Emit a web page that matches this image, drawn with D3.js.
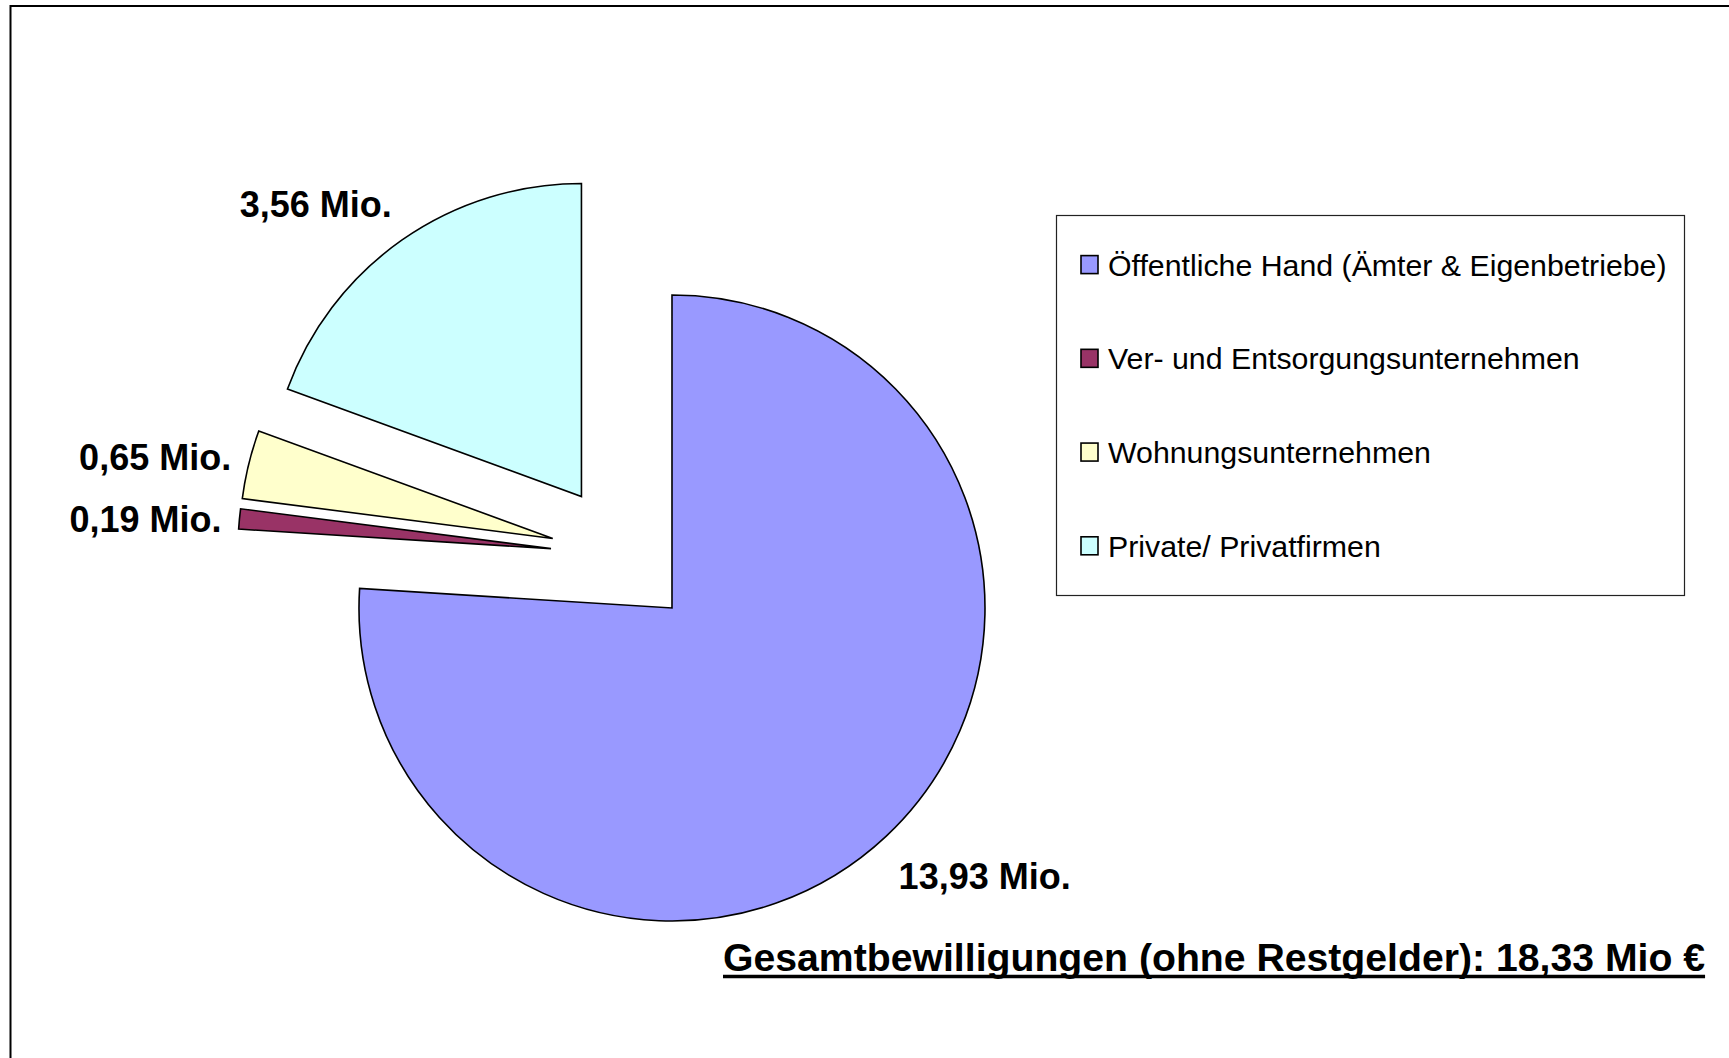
<!DOCTYPE html>
<html>
<head>
<meta charset="utf-8">
<script src="https://cdn.jsdelivr.net/npm/d3@7"></script>
<style>
  body { margin: 0; background: #fff; }
  svg { display: block; font-family: "Liberation Sans", Arial, sans-serif; }
</style>
</head>
<body>
<div id="container"></div>
<script>
/* DATA */
const categories = [
  "Öffentliche Hand (Ämter & Eigenbetriebe)",
  "Ver- und Entsorgungsunternehmen",
  "Wohnungsunternehmen",
  "Private/ Privatfirmen"
];
const values = [13.93, 0.19, 0.65, 3.56];
const valueLabels = ["13,93 Mio.", "0,19 Mio.", "0,65 Mio.", "3,56 Mio."];
const colors = ["#9999ff", "#993366", "#ffffcc", "#ccffff"];
const totalLabel = "Gesamtbewilligungen (ohne Restgelder): 18,33 Mio €";

/* CONSTANTS */
const width = 1729;
const height = 1058;
const cx = 622.7, cy = 555.5;   // pie centre before explosion
const radius = 313;
const explode = 72;
const labelDist = 331;

const data = categories.map((c, i) => ({ cat: c, value: values[i], label: valueLabels[i] }));

const svg = d3.select("#container")
  .append("svg")
  .attr("width", width)
  .attr("height", height);

svg.append("rect")
  .attr("width", width).attr("height", height)
  .attr("fill", "#fff");

// frame (runs off right and bottom)
svg.append("rect")
  .attr("x", 10.5).attr("y", 6)
  .attr("width", width + 20).attr("height", height + 20)
  .attr("fill", "none")
  .attr("stroke", "#000")
  .attr("stroke-width", 2);

/* PIE */
const color = d3.scaleOrdinal().domain(categories).range(colors);

const pie = d3.pie()
  .sort(null)
  .value(d => d.value);

const arc = d3.arc()
  .innerRadius(0)
  .outerRadius(radius);

const arcs = pie(data);
const dir = d => {
  const a = (d.startAngle + d.endAngle) / 2;
  return [Math.sin(a), -Math.cos(a)];
};

const slices = svg.append("g")
  .attr("transform", `translate(${cx}, ${cy})`);

slices.selectAll(".slice")
  .data(arcs)
  .join("path")
  .attr("class", "slice")
  .attr("d", arc)
  .attr("transform", d => {
    const [dx, dy] = dir(d);
    return `translate(${dx * explode}, ${dy * explode})`;
  })
  .attr("fill", d => color(d.data.cat))
  .attr("stroke", "#000")
  .attr("stroke-width", 1.6)
  .attr("stroke-linejoin", "miter");

// value labels
slices.selectAll(".val")
  .data(arcs)
  .join("text")
  .attr("class", "val")
  .attr("x", d => dir(d)[0] * (explode + labelDist))
  .attr("y", d => dir(d)[1] * (explode + labelDist) + dir(d)[1] * 31 + 4.5)
  .attr("dy", "0.36em")
  .attr("text-anchor", d => dir(d)[0] < 0 ? "end" : "start")
  .style("font-size", "36px")
  .style("font-weight", "bold")
  .text(d => d.data.label);

/* LEGEND */
const legend = svg.append("g");

legend.append("rect")
  .attr("x", 1056.5).attr("y", 215.5)
  .attr("width", 628).attr("height", 380)
  .attr("fill", "#fff")
  .attr("stroke", "#222")
  .attr("stroke-width", 1.2);

const yLegend = d3.scalePoint()
  .domain(categories)
  .range([264.6, 545.8]);

legend.selectAll(".sw")
  .data(categories)
  .join("rect")
  .attr("class", "sw")
  .attr("x", 1081).attr("y", d => yLegend(d) - 9)
  .attr("width", 17).attr("height", 18)
  .attr("fill", d => color(d))
  .attr("stroke", "#000")
  .attr("stroke-width", 1.6);

legend.selectAll(".lt")
  .data(categories)
  .join("text")
  .attr("class", "lt")
  .attr("x", 1108)
  .attr("y", d => yLegend(d))
  .attr("dy", "0.36em")
  .style("font-size", "30.3px")
  .text(d => d);

/* TOTAL */
const title = svg.append("text")
  .attr("x", 723)
  .attr("y", 971)
  .style("font-size", "39.2px")
  .style("font-weight", "bold")
  .text(totalLabel);

const tw = title.node().getComputedTextLength();
svg.append("line")
  .attr("x1", 723).attr("x2", 723 + tw)
  .attr("y1", 976.5).attr("y2", 976.5)
  .attr("stroke", "#000")
  .attr("stroke-width", 3.5);
</script>
</body>
</html>
